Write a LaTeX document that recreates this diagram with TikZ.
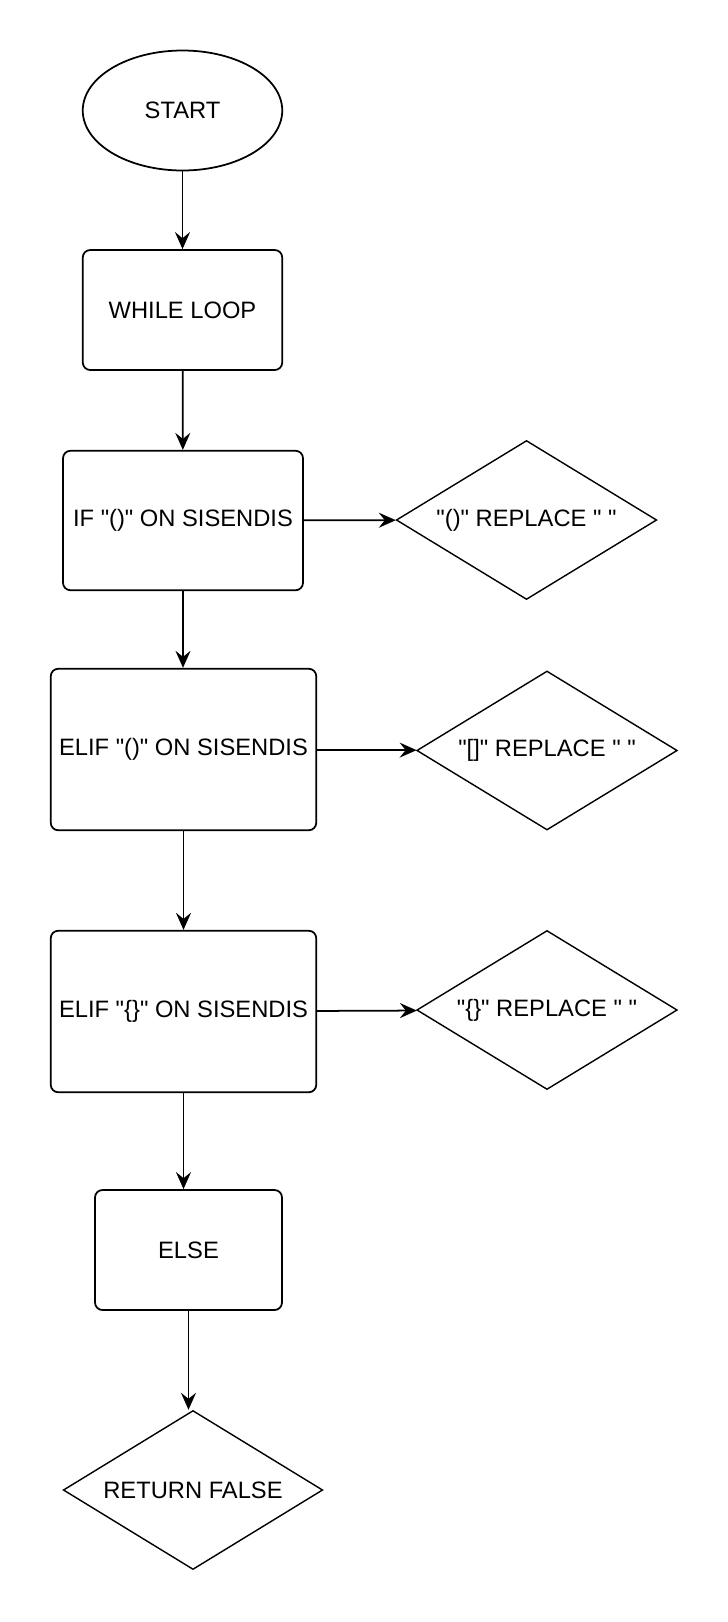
\documentclass[tikz,border=0pt]{standalone}
\usepackage{fontspec}
\setmainfont{Liberation Sans}[Ligatures=TeXOff]
\usetikzlibrary{shapes.geometric,arrows.meta}

\tikzset{
  caja/.style={draw, line width=1pt, rounded corners=0.15cm, align=center, inner sep=0pt},
  rombo/.style={draw, diamond, aspect=1.64, line width=0.8pt, inner sep=0pt, minimum width=5.21cm, minimum height=3.18cm},
  flecha/.style={line width=1pt, -{Stealth[length=3.4mm,width=3mm,inset=1.2mm]}}
}

\begin{document}
\begin{tikzpicture}[font=\fontsize{13.5pt}{16pt}\selectfont]

			\useasboundingbox (0,0) rectangle (14.56,-32.44);

			% Inicio y bucle
			\node[draw, ellipse, line width=1pt, minimum width=3.99cm, minimum height=2.40cm, inner sep=0pt] (start) at (3.65,-2.21) {START};
			\node[caja, minimum width=3.99cm, minimum height=2.40cm] (while) at (3.65,-6.20) {WHILE LOOP};

			% Condiciones
			\node[caja, minimum width=4.80cm, minimum height=2.79cm] (if) at (3.66,-10.41) {IF "()" ON SISENDIS};
			\node[caja, minimum width=5.31cm, minimum height=3.23cm] (elifa) at (3.67,-14.99) {ELIF "()" ON SISENDIS};
			\node[caja, minimum width=5.31cm, minimum height=3.23cm] (elifb) at (3.67,-20.23) {ELIF "\{\}" ON SISENDIS};
			\node[caja, minimum width=3.74cm, minimum height=2.40cm] (else) at (3.77,-25.00) {ELSE};

			% Reemplazos
			\node[rombo] (repa) at (10.53,-10.40) {"()" REPLACE " "};
			\node[rombo] (repb) at (10.94,-15.01) {"[]" REPLACE " "};
			\node[rombo] (repc) at (10.94,-20.20) {"\{\}" REPLACE " "};
			\node[rombo, minimum width=5.19cm] (ret) at (3.86,-29.80) {RETURN FALSE};

			% Flechas
			\draw[flecha] (start) -- (while);
			\draw[flecha] (while) -- (if);
			\draw[flecha] (if.south) -- (if.south |- elifa.north);
			\draw[flecha] (elifa) -- (elifb);
			\draw[flecha] (elifb.south) -- (elifb.south |- else.north);
			\draw[flecha] (else.south) -- (else.south |- ret.north);
			\draw[flecha] (if) -- (repa);
			\draw[flecha] (elifa) -- (repb);
			\draw[flecha] (elifb) -- (repc);

		\end{tikzpicture}
\end{document}
